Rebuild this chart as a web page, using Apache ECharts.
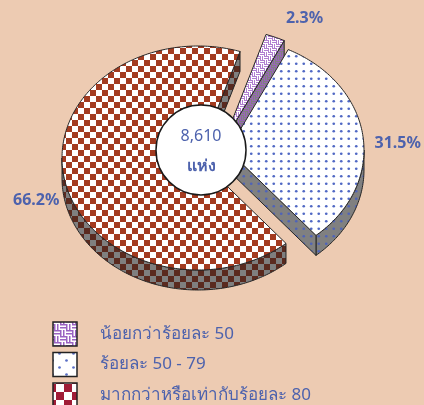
<!DOCTYPE html>
<html lang="th">
<head>
<meta charset="UTF-8">
<title>สัดส่วน 8,610 แห่ง</title>
<style>
  html, body { margin: 0; padding: 0; background: #edcbb2; }
  #main { width: 424px; height: 405px; }
</style>
</head>
<body>
<div id="main"></div>
<script src="https://cdn.jsdelivr.net/npm/echarts@6/dist/echarts.min.js"></script>
<script>
// ข้อมูล
const names = ['น้อยกว่าร้อยละ 50', 'ร้อยละ 50 - 79', 'มากกว่าหรือเท่ากับร้อยละ 80'];
const shares = [2.3, 31.5, 66.2];
const total = 8610;
const unit = 'แห่ง';

// รูปทรงพาย 3 มิติ
const cx = 198, cy = 158, rx = 136, ry = 112, depth = 20, startDeg = 72;
const explode = [[26, -17], [30, -8], [0, 0]];
const labelNudge = [[18, 4], [5, 10], [1, 16]];
const blue = '#4d62ad';
const font = "'Noto Sans', 'DejaVu Sans', sans-serif";

function tile(w, h, draw) {
    const c = document.createElement('canvas');
    c.width = w; c.height = h;
    draw(c.getContext('2d'));
    return { image: c, repeat: 'repeat' };
}
function weave(bg, fg, s) {
    return tile(8 * s, 8 * s, function (g) {
        g.fillStyle = bg; g.fillRect(0, 0, 8 * s, 8 * s);
        g.fillStyle = fg;
        g.fillRect(0, 0, 4 * s, s); g.fillRect(0, 2 * s, 4 * s, s);
        g.fillRect(4 * s, 0, s, 4 * s); g.fillRect(6 * s, 0, s, 4 * s);
        g.fillRect(0, 4 * s, s, 4 * s); g.fillRect(2 * s, 4 * s, s, 4 * s);
        g.fillRect(4 * s, 4 * s, 4 * s, s); g.fillRect(4 * s, 6 * s, 4 * s, s);
    });
}
function dots(bg, fg, step, stagger) {
    return tile(step * 2, step * 2, function (g) {
        g.fillStyle = bg; g.fillRect(0, 0, step * 2, step * 2);
        g.fillStyle = fg;
        const pts = stagger ? [[0.5, 0.5], [1.5, 1.5]] : [[0.5, 0.5], [1.5, 0.5], [0.5, 1.5], [1.5, 1.5]];
        pts.forEach(function (p) {
            g.beginPath(); g.arc(p[0] * step, p[1] * step, 1.35, 0, Math.PI * 2); g.fill();
        });
    });
}
function checker(a, b, s) {
    return tile(s * 2, s * 2, function (g) {
        g.fillStyle = b; g.fillRect(0, 0, s * 2, s * 2);
        g.fillStyle = a; g.fillRect(0, 0, s, s); g.fillRect(s, s, s, s);
    });
}

const topFill = [weave('#ffffff', '#b07fd0', 1), dots('#ffffff', '#5068c4', 7.5, false), checker('#a33b20', '#ffffff', 6)];
const wallFill = [weave('#808080', '#9a66b8', 1), dots('#808080', '#4f63b8', 7.5, false), checker('#5a2a1f', '#7f7f7f', 6)];
const legendFill = [weave('#ffffff', '#9a62c2', 1.5), dots('#ffffff', '#5a6fc6', 7, true), checker('#a01c36', '#ffffff', 8)];

const spans = [];
let hi = startDeg;
shares.forEach(function (s) { const lo = hi - s * 3.6; spans.push([lo, hi]); hi = lo; });

function renderItem(params, api) {
    const i = params.dataIndex;
    const lo = spans[i][0], hi = spans[i][1];
    const px = cx + explode[i][0], py = cy + explode[i][1];
    const pt = function (deg, dy) {
        const r = deg * Math.PI / 180;
        return [px + rx * Math.cos(r), py - ry * Math.sin(r) + (dy || 0)];
    };
    const arc = function (a, b, dy) {
        const pts = [], n = Math.max(2, Math.ceil(Math.abs(b - a)));
        for (let k = 0; k <= n; k++) pts.push(pt(a + (b - a) * k / n, dy));
        return pts;
    };
    const wallStyle = { fill: wallFill[i], stroke: '#262626', lineWidth: 1 };
    const children = [];
    // ผนังด้านหน้า
    for (let k = -2; k <= 1; k++) {
        const a = Math.max(lo, -180 + 360 * k), b = Math.min(hi, 360 * k);
        if (b > a) children.push({ type: 'polygon', shape: { points: arc(a, b, 0).concat(arc(b, a, depth)) }, style: wallStyle });
    }
    const radial = function (deg) {
        return { type: 'polygon', shape: { points: [[px, py], pt(deg), pt(deg, depth), [px, py + depth]] }, style: wallStyle };
    };
    if (Math.cos(lo * Math.PI / 180) > 0) children.push(radial(lo));
    if (Math.cos(hi * Math.PI / 180) < 0) children.push(radial(hi));
    // ด้านบน
    children.push({ type: 'polygon', shape: { points: [[px, py]].concat(arc(lo, hi, 0)) },
        style: { fill: topFill[i], stroke: '#262626', lineWidth: 1 } });
    const mid = (lo + hi) / 2 * Math.PI / 180;
    children.push({ type: 'text',
        x: px + rx * 1.22 * Math.cos(mid) + labelNudge[i][0],
        y: py - ry * 1.22 * Math.sin(mid) + labelNudge[i][1],
        style: { text: api.value(0).toFixed(1) + '%', fill: blue, font: 'bold 16px ' + font, align: 'center', verticalAlign: 'middle' } });
    return { type: 'group', children: children };
}

const legendItems = [];
names.forEach(function (n, i) {
    legendItems.push({ type: 'rect', shape: { x: 53, y: 322 + 30.5 * i, width: 24, height: 24 },
        style: { fill: legendFill[i], stroke: '#222', lineWidth: 1.5 }, z: 10 });
    legendItems.push({ type: 'text', x: 100, y: 334 + 30.5 * i,
        style: { text: n, fill: blue, font: '17px ' + font, verticalAlign: 'middle' }, z: 10 });
});

const chart = echarts.init(document.getElementById('main'));
chart.setOption({
    backgroundColor: '#edcbb2',
    animation: false,
    series: [{
        type: 'custom',
        coordinateSystem: 'none',
        silent: true,
        renderItem: renderItem,
        data: shares.map(function (v, i) { return { name: names[i], value: [v] }; })
    }],
    graphic: [
        { type: 'circle', shape: { cx: 201, cy: 150, r: 45 }, style: { fill: '#ffffff', stroke: '#1a1a1a', lineWidth: 1.5 }, z: 10 },
        { type: 'text', x: 201, y: 136, style: { text: total.toLocaleString('en-US'), fill: blue, font: '16px ' + font, align: 'center', verticalAlign: 'middle' }, z: 11 },
        { type: 'text', x: 201, y: 166, style: { text: unit, fill: blue, font: 'bold 16px ' + font, align: 'center', verticalAlign: 'middle' }, z: 11 }
    ].concat(legendItems)
});
</script>
</body>
</html>
